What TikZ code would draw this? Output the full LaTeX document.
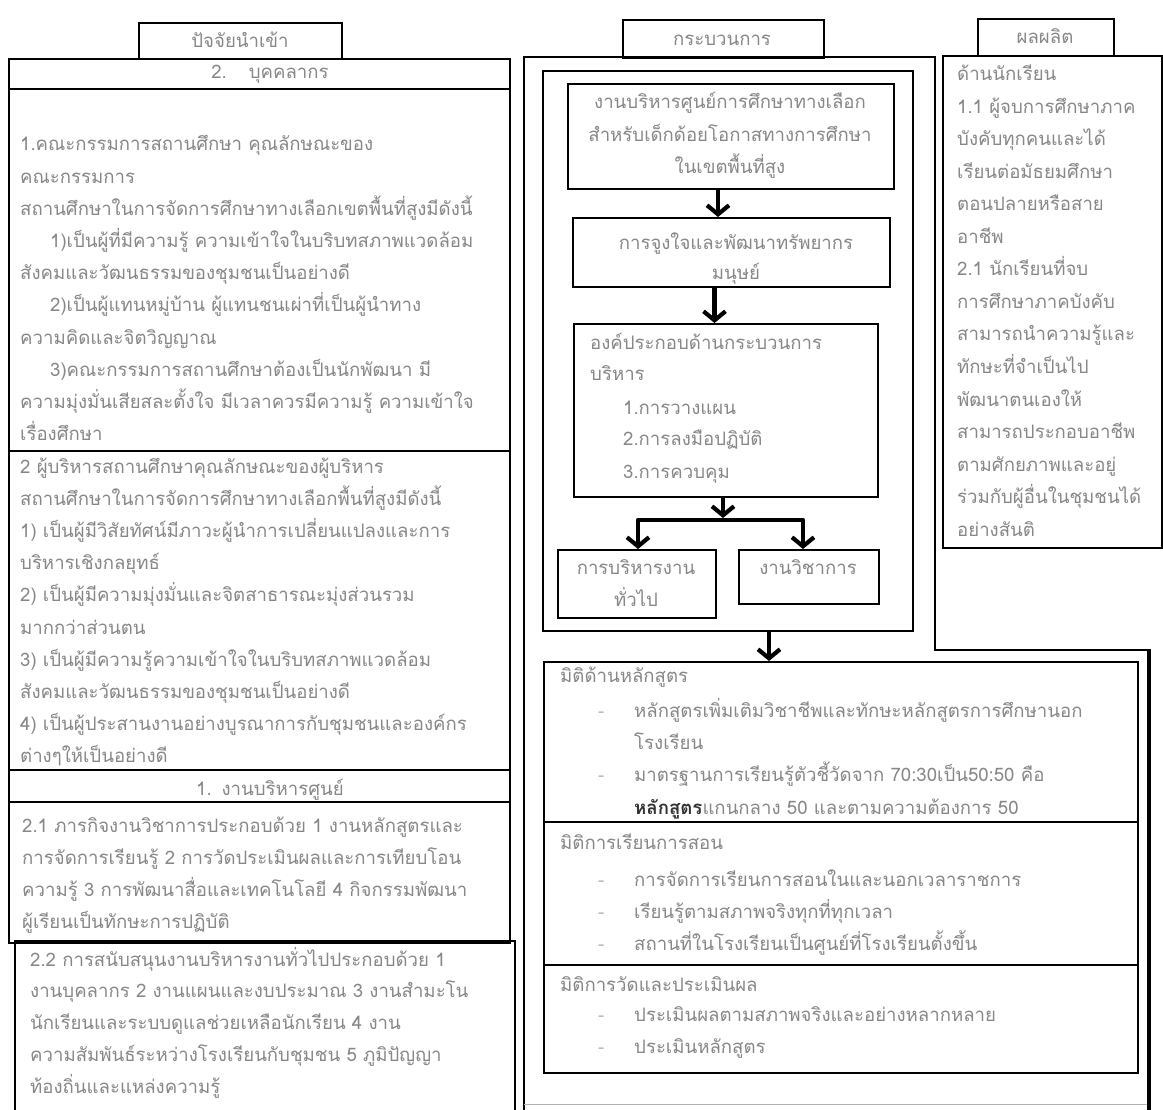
\documentclass[tikz,border=0pt]{standalone}
\usepackage{fontspec}
\newfontfamily\thai[Script=Thai]{Loma}
\usetikzlibrary{arrows.meta}
\tikzset{
  frame/.style={draw=black, line width=2pt},
  boxnode/.style={frame, anchor=north west, inner sep=0pt},
  txt/.style={font=\thai\fontsize{18.6}{22}\selectfont, text=black!47, inner sep=0pt},
  lw/.style={txt, anchor=base west},
  lc/.style={txt, anchor=base},
  bul/.style={txt, anchor=base west, text=black!28},
  tip/.tip={Straight Barb[length=9pt,width=22pt]},
  arr/.style={draw=black, line width=4.2pt, -tip},
}
\begin{document}
\begin{tikzpicture}[x=1pt,y=-1pt]
\useasboundingbox (0,0) rectangle (1163,1110);
\fill[white] (0,0) rectangle (1163,1110);

% ---------- left column ----------
\node[boxnode, minimum width=203pt, minimum height=36pt] (hin) at (138,22) {};
\node[lc] (hint) at (240,48) {ปัจจัยนำเข้า};
\node[boxnode, minimum width=501pt, minimum height=884pt] (lbox) at (8,58) {};
\draw[frame] (8,89) -- (509,89);
\draw[frame] (8,451) -- (509,451);
\draw[frame] (8,770) -- (509,770);
\draw[frame] (8,802) -- (509,802);
\node[lc] (ttl1) at (270,79) {2.\hspace{22pt}บุคคลากร};
\node[lc] (ttl2) at (270,795) {1.\hspace{10pt}งานบริหารศูนย์};
\node[boxnode, minimum width=500pt, minimum height=190pt] (l22) at (14,940) {};

\foreach \s [count=\i] in {
  {1.คณะกรรมการสถานศึกษา คุณลักษณะของ},
  {คณะกรรมการ},
  {สถานศึกษาในการจัดการศึกษาทางเลือกเขตพื้นที่สูงมีดังนี้},
  {\hspace*{30pt}1)เป็นผู้ที่มีความรู้ ความเข้าใจในบริบทสภาพแวดล้อม},
  {สังคมและวัฒนธรรมของชุมชนเป็นอย่างดี},
  {\hspace*{30pt}2)เป็นผู้แทนหมู่บ้าน ผู้แทนชนเผ่าที่เป็นผู้นำทาง},
  {ความคิดและจิตวิญญาณ},
  {\hspace*{30pt}3)คณะกรรมการสถานศึกษาต้องเป็นนักพัฒนา มี},
  {ความมุ่งมั่นเสียสละตั้งใจ มีเวลาควรมีความรู้ ความเข้าใจ},
  {เรื่องศึกษา}}
  \node[lw] (ba\i) at (20,{151+32.2*(\i-1)}) {\s};

\foreach \s [count=\i] in {
  {2 ผู้บริหารสถานศึกษาคุณลักษณะของผู้บริหาร},
  {สถานศึกษาในการจัดการศึกษาทางเลือกพื้นที่สูงมีดังนี้},
  {1) เป็นผู้มีวิสัยทัศน์มีภาวะผู้นำการเปลี่ยนแปลงและการ},
  {บริหารเชิงกลยุทธ์},
  {2) เป็นผู้มีความมุ่งมั่นและจิตสาธารณะมุ่งส่วนรวม},
  {มากกว่าส่วนตน},
  {3) เป็นผู้มีความรู้ความเข้าใจในบริบทสภาพแวดล้อม},
  {สังคมและวัฒนธรรมของชุมชนเป็นอย่างดี},
  {4) เป็นผู้ประสานงานอย่างบูรณาการกับชุมชนและองค์กร},
  {ต่างๆให้เป็นอย่างดี}}
  \node[lw] (bb\i) at (20,{473+32.2*(\i-1)}) {\s};

\foreach \s [count=\i] in {
  {2.1 ภารกิจงานวิชาการประกอบด้วย 1 งานหลักสูตรและ},
  {การจัดการเรียนรู้ 2 การวัดประเมินผลและการเทียบโอน},
  {ความรู้ 3 การพัฒนาสื่อและเทคโนโลยี 4 กิจกรรมพัฒนา},
  {ผู้เรียนเป็นทักษะการปฏิบัติ}}
  \node[lw] (bc\i) at (22,{832+32*(\i-1)}) {\s};

\foreach \s [count=\i] in {
  {2.2 การสนับสนุนงานบริหารงานทั่วไปประกอบด้วย 1},
  {งานบุคลากร 2 งานแผนและงบประมาณ 3 งานสำมะโน},
  {นักเรียนและระบบดูแลช่วยเหลือนักเรียน 4 งาน},
  {ความสัมพันธ์ระหว่างโรงเรียนกับชุมชน 5 ภูมิปัญญา},
  {ท้องถิ่นและแหล่งความรู้}}
  \node[lw] (bd\i) at (30,{966+31.8*(\i-1)}) {\s};

% ---------- middle column ----------
\node[boxnode, minimum width=201pt, minimum height=38pt] (hpr) at (622,19) {};
\node[lc] (hprt) at (722,46) {กระบวนการ};
\draw[frame, line join=miter] (524,1120) -- (524,57) -- (935,57) -- (935,650) -- (1149,650) -- (1149,1120);
\draw[line width=4.5pt] (1149,649) -- (1149,1120);
\draw[black!30, line width=1pt] (524,1104) -- (1147,1104);

\node[boxnode, minimum width=370pt, minimum height=560pt] (pf) at (542,70) {};
\node[boxnode, minimum width=326pt, minimum height=105pt] (pa) at (567,83) {};
\node[lc] (pa1) at (730,109) {งานบริหารศูนย์การศึกษาทางเลือก};
\node[lc] (pa2) at (730,142) {สำหรับเด็กด้อยโอกาสทางการศึกษา};
\node[lc] (pa3) at (730,174) {ในเขตพื้นที่สูง};

\node[boxnode, minimum width=317pt, minimum height=69pt] (pb) at (572,217) {};
\node[lc] (pb1) at (736,250) {การจูงใจและพัฒนาทรัพยากร};
\node[lc] (pb2) at (736,280) {มนุษย์};

\node[boxnode, minimum width=304pt, minimum height=173pt] (pc) at (573,323) {};
\node[lw] (pc1) at (590,349) {องค์ประกอบด้านกระบวนการ};
\node[lw] (pc2) at (590,381) {บริหาร};
\node[lw] (pc3) at (623,414) {1.การวางแผน};
\node[lw] (pc4) at (623,445) {2.การลงมือปฏิบัติ};
\node[lw] (pc5) at (623,478) {3.การควบคุม};

\node[boxnode, minimum width=158pt, minimum height=68pt] (pd) at (557,549) {};
\node[lc] (pd1) at (636,574) {การบริหารงาน};
\node[lc] (pd2) at (636,606) {ทั่วไป};
\node[boxnode, minimum width=140pt, minimum height=54pt] (pe) at (738,549) {};
\node[lc] (pe1) at (808,574) {งานวิชาการ};

\coordinate (jn) at (723,520);
\draw[arr] ([xshift=-13pt]pa.south) -- ([xshift=-13pt]pa.south |- pb.north);
\draw[arr] ([xshift=-17pt]pb.south) -- ([xshift=-17pt]pb.south |- pc.north);
\draw[arr] (pc.south -| jn) -- ([yshift=2pt]jn);
\draw[line width=4.2pt, line join=round, tip-tip]
  (pd.north -| 638,0) -- (638,520) -- (803,520) -- (pe.north -| 803,0);

\node[boxnode, minimum width=594pt, minimum height=411pt] (mm) at (543,661) {};
\draw[arr] ([xshift=41pt]pf.south) -- ([xshift=41pt]pf.south |- mm.north);
\draw[frame] (543,822) -- (1137,822);
\draw[frame] (543,965) -- (1137,965);

\node[lw] (m1) at (560,682) {มิติด้านหลักสูตร};
\node[bul] (m1b1) at (598,717) {-};
\node[lw] (m1a) at (634,717) {หลักสูตรเพิ่มเติมวิชาชีพและทักษะหลักสูตรการศึกษานอก};
\node[lw] (m1b) at (634,749) {โรงเรียน};
\node[bul] (m1b2) at (598,781) {-};
\node[lw] (m1c) at (634,781) {มาตรฐานการเรียนรู้ตัวชี้วัดจาก 70:30เป็น50:50 คือ};
\node[lw] (m1d) at (634,814) {{\bfseries\color{black!80}หลักสูตร}แกนกลาง 50 และตามความต้องการ 50};

\node[lw] (m2) at (560,849) {มิติการเรียนการสอน};
\foreach \s/\yy [count=\i] in {
  {การจัดการเรียนการสอนในและนอกเวลาราชการ}/886,
  {เรียนรู้ตามสภาพจริงทุกที่ทุกเวลา}/918,
  {สถานที่ในโรงเรียนเป็นศูนย์ที่โรงเรียนตั้งขึ้น}/950}
  {\node[bul] (m2b\i) at (598,\yy) {-};
   \node[lw] (m2t\i) at (634,\yy) {\s};}

\node[lw] (m3) at (560,991) {มิติการวัดและประเมินผล};
\foreach \s/\yy [count=\i] in {
  {ประเมินผลตามสภาพจริงและอย่างหลากหลาย}/1021,
  {ประเมินหลักสูตร}/1053}
  {\node[bul] (m3b\i) at (598,\yy) {-};
   \node[lw] (m3t\i) at (634,\yy) {\s};}

% ---------- right column ----------
\node[boxnode, minimum width=136pt, minimum height=37pt] (hout) at (977,18) {};
\node[lc] (houtt) at (1045,44) {ผลผลิต};
\node[boxnode, minimum width=219pt, minimum height=492pt] (rbox) at (942,55) {};
\foreach \s [count=\i] in {
  {ด้านนักเรียน},
  {1.1 ผู้จบการศึกษาภาค},
  {บังคับทุกคนและได้},
  {เรียนต่อมัธยมศึกษา},
  {ตอนปลายหรือสาย},
  {อาชีพ},
  {2.1 นักเรียนที่จบ},
  {การศึกษาภาคบังคับ},
  {สามารถนำความรู้และ},
  {ทักษะที่จำเป็นไป},
  {พัฒนาตนเองให้},
  {สามารถประกอบอาชีพ},
  {ตามศักยภาพและอยู่},
  {ร่วมกับผู้อื่นในชุมชนได้},
  {อย่างสันติ}}
  \node[lw] (r\i) at (957,{81+32.5*(\i-1)}) {\s};
\end{tikzpicture}
\end{document}
